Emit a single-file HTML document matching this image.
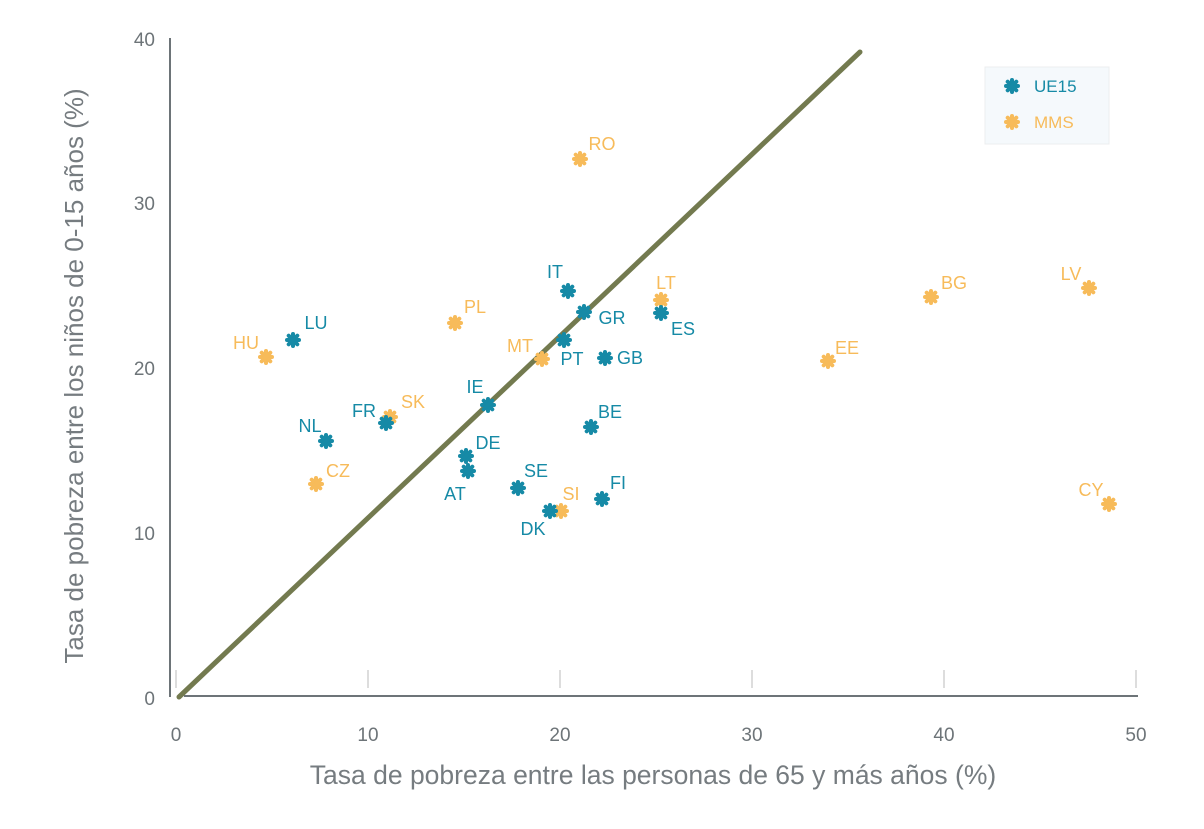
<!DOCTYPE html>
<html><head><meta charset="utf-8"><style>body{margin:0;background:#fff}svg{display:block;font-family:"Liberation Sans",sans-serif}</style></head><body>
<svg width="1204" height="829" xmlns="http://www.w3.org/2000/svg">
<defs>
<g id="m" stroke-width="4" stroke-linecap="round"><line x1="-6" y1="0" x2="6" y2="0"/><line x1="0" y1="-6" x2="0" y2="6"/><line x1="-4.3" y1="-4.3" x2="4.3" y2="4.3"/><line x1="-4.3" y1="4.3" x2="4.3" y2="-4.3"/></g>
</defs>
<g stroke="#ddd" stroke-width="2">
<line x1="176" y1="670" x2="176" y2="688"/><line x1="368" y1="670" x2="368" y2="688"/><line x1="560" y1="670" x2="560" y2="688"/><line x1="752" y1="670" x2="752" y2="688"/><line x1="944" y1="670" x2="944" y2="688"/><line x1="1136" y1="670" x2="1136" y2="688"/>
</g>
<line x1="170" y1="38" x2="170" y2="697" stroke="#6d7478" stroke-width="2"/>
<line x1="184" y1="696" x2="1138" y2="696" stroke="#6d7478" stroke-width="2"/>
<g fill="#6d7478" font-size="19">
<text x="155" y="705" text-anchor="end">0</text><text x="155" y="540" text-anchor="end">10</text><text x="155" y="375" text-anchor="end">20</text><text x="155" y="210" text-anchor="end">30</text><text x="155" y="46" text-anchor="end">40</text>
<g text-anchor="middle"><text x="176" y="741">0</text><text x="368" y="741">10</text><text x="560" y="741">20</text><text x="752" y="741">30</text><text x="944" y="741">40</text><text x="1136" y="741">50</text></g>
</g>
<text x="653" y="784" text-anchor="middle" fill="#767c80" font-size="26.5">Tasa de pobreza entre las personas de 65 y más años (%)</text>
<text transform="translate(83,376) rotate(-90)" text-anchor="middle" fill="#767c80" font-size="26">Tasa de pobreza entre los niños de 0-15 años (%)</text>
<line x1="179" y1="697" x2="860" y2="52" stroke="#737a4f" stroke-width="5" stroke-linecap="round"/>
<rect x="985" y="67" width="124" height="77" fill="#f5f9fc" stroke="#eceeef"/>
<g stroke="#168aa6"><use href="#m" x="1012" y="86"/></g>
<g stroke="#f7bb5a"><use href="#m" x="1012" y="122"/></g>
<text x="1034" y="92" fill="#168aa6" font-size="17">UE15</text>
<text x="1034" y="128" fill="#f7bb5a" font-size="17">MMS</text>
<g stroke="#f7bb5a">
<use href="#m" x="266" y="357"/><use href="#m" x="316" y="484"/><use href="#m" x="390" y="417"/><use href="#m" x="455" y="323"/><use href="#m" x="542" y="359"/><use href="#m" x="580" y="159"/><use href="#m" x="661" y="300"/><use href="#m" x="561" y="511"/><use href="#m" x="828" y="361"/><use href="#m" x="931" y="297"/><use href="#m" x="1089" y="288"/><use href="#m" x="1109" y="504"/>
</g>
<g stroke="#168aa6">
<use href="#m" x="293" y="340"/><use href="#m" x="326" y="441"/><use href="#m" x="386" y="423"/><use href="#m" x="488" y="405"/><use href="#m" x="466" y="456"/><use href="#m" x="468" y="471"/><use href="#m" x="518" y="488"/><use href="#m" x="550" y="511"/><use href="#m" x="568" y="291"/><use href="#m" x="584" y="312"/><use href="#m" x="564" y="340"/><use href="#m" x="605" y="358"/><use href="#m" x="661" y="313"/><use href="#m" x="591" y="427"/><use href="#m" x="602" y="499"/>
</g>
<g fill="#f7bb5a" font-size="18" text-anchor="middle">
<text x="246" y="349">HU</text><text x="338" y="477">CZ</text><text x="413" y="408">SK</text><text x="475" y="313">PL</text><text x="520" y="352">MT</text><text x="602" y="150">RO</text><text x="666" y="289">LT</text><text x="571" y="500">SI</text><text x="847" y="354">EE</text><text x="954" y="289">BG</text><text x="1071" y="280">LV</text><text x="1091" y="496">CY</text>
</g>
<g fill="#168aa6" font-size="18" text-anchor="middle">
<text x="316" y="329">LU</text><text x="310" y="432">NL</text><text x="364" y="417">FR</text><text x="475" y="393">IE</text><text x="488" y="449">DE</text><text x="455" y="500">AT</text><text x="536" y="477">SE</text><text x="533" y="535">DK</text><text x="555" y="278">IT</text><text x="612" y="324">GR</text><text x="572" y="365">PT</text><text x="630" y="364">GB</text><text x="683" y="335">ES</text><text x="610" y="418">BE</text><text x="618" y="489">FI</text>
</g>
</svg>
</body></html>
